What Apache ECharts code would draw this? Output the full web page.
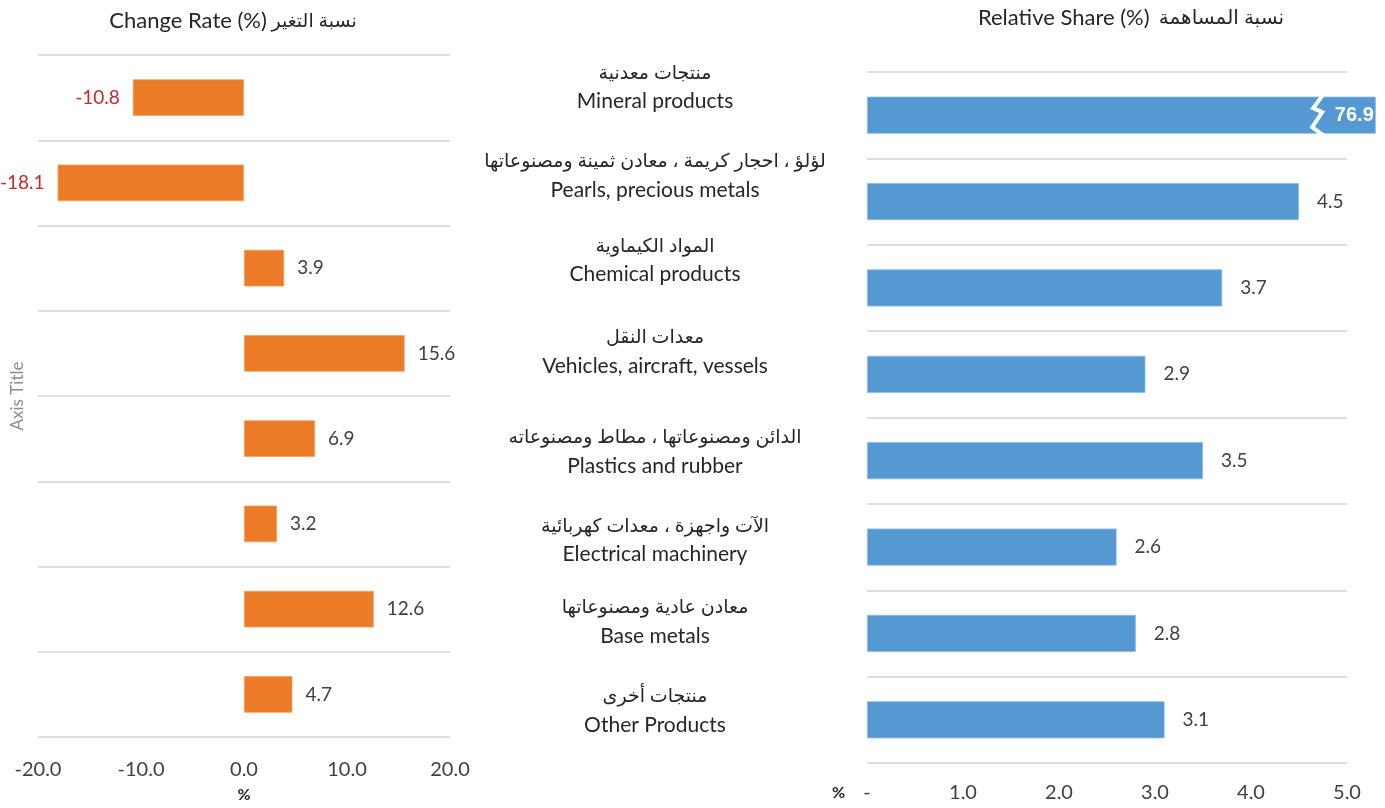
<!DOCTYPE html>
<html>
<head>
<meta charset="utf-8">
<script src="https://cdn.jsdelivr.net/npm/echarts@6/dist/echarts.min.js"></script>
<style>
html,body{margin:0;padding:0;background:#fff;}
#main{width:1385px;height:808px;}
</style>
</head>
<body>
<div id="main"></div>
<script>
// ---- data ----
const categoriesAr = [
  'منتجات معدنية',
  'لؤلؤ ، احجار كريمة ، معادن ثمينة ومصنوعاتها',
  'المواد الكيماوية',
  'معدات النقل',
  'الدائن ومصنوعاتها ، مطاط ومصنوعاته',
  'الآت واجهزة ، معدات كهربائية',
  'معادن عادية ومصنوعاتها',
  'منتجات أخرى'
];
const categoriesEn = [
  'Mineral products',
  'Pearls, precious metals',
  'Chemical products',
  'Vehicles, aircraft, vessels',
  'Plastics and rubber',
  'Electrical machinery',
  'Base metals',
  'Other Products'
];
const changeRate = [-10.8, -18.1, 3.9, 15.6, 6.9, 3.2, 12.6, 4.7];
const relativeShare = [76.9, 4.5, 3.7, 2.9, 3.5, 2.6, 2.8, 3.1];
const leftTicks = [-20, -10, 0, 10, 20];
const rightTicks = [0, 1, 2, 3, 4, 5];

// ---- layout / style ----
const FONT = 'Lato, "DejaVu Sans", sans-serif';
const TXT = '#404040';
const ORANGE = '#EB7B27';
const BLUE = '#5599D3';
const NEG = '#C8282D';
const GRIDC = '#D4D4D4';
const rightMax = 5;
const capValue = 5.3;     // visual cap for broken bar
const breakAt = 4.7;      // where the break symbol is drawn
const labelShift = [28, 26, 28, 23, 9, 7, 12, 9]; // upward shift of middle labels (px)
const midX = 655;

const chart = echarts.init(document.getElementById('main'), null, {renderer: 'canvas'});

const option = {
  animation: false,
  backgroundColor: '#fff',
  textStyle: {fontFamily: FONT},
  title: [
    {text: '{en|Change Rate (%)} {ar|نسبة التغير}', left: 228, top: 5, textAlign: 'center',
     textStyle: {fontFamily: FONT, fontWeight: 'normal', color: '#262626',
       rich: {en: {fontSize: 22, fontFamily: FONT, color: '#262626'}, ar: {fontSize: 19, fontFamily: FONT, color: '#262626'}}}},
    {text: '{en|Relative Share (%)}  {ar|نسبة المساهمة}', left: 1126, top: 2, textAlign: 'center',
     textStyle: {fontFamily: FONT, fontWeight: 'normal', color: '#262626',
       rich: {en: {fontSize: 22, fontFamily: FONT, color: '#262626'}, ar: {fontSize: 20, fontFamily: FONT, color: '#262626'}}}}
  ],
  grid: [
    {left: 38, right: 935, top: 55, bottom: 68, containLabel: false},
    {left: 867, right: 38, top: 72, bottom: 45, containLabel: false}
  ],
  xAxis: [
    {gridIndex: 0, type: 'value', min: -20, max: 20, interval: 10,
     axisLine: {show: false}, axisTick: {show: false}, splitLine: {show: false},
     axisLabel: {margin: 23, fontSize: 20, color: TXT, fontFamily: FONT,
       customValues: leftTicks, formatter: v => v.toFixed(1)},
     name: '%', nameLocation: 'middle', nameGap: 50,
     nameTextStyle: {fontSize: 16, fontWeight: 'bold', color: '#262626', fontFamily: FONT}},
    {gridIndex: 1, type: 'value', min: 0, max: rightMax, interval: 1,
     axisLine: {show: false}, axisTick: {show: false}, splitLine: {show: false},
     axisLabel: {margin: 20, fontSize: 20, color: TXT, fontFamily: FONT,
       customValues: rightTicks, formatter: v => v === 0 ? '-' : v.toFixed(1)},
     name: '%', nameLocation: 'start', nameGap: 22,
     nameTextStyle: {fontSize: 16, fontWeight: 'bold', color: '#262626', fontFamily: FONT,
       verticalAlign: 'top', padding: [22, 0, 0, 0]}}
  ],
  yAxis: [
    {gridIndex: 0, type: 'category', inverse: true, data: categoriesEn,
     axisLine: {show: false}, axisTick: {show: false}, axisLabel: {show: false},
     splitLine: {show: true, lineStyle: {color: GRIDC, width: 1.5}},
     name: 'Axis Title', nameLocation: 'middle', nameGap: 12,
     nameTextStyle: {fontSize: 17, color: '#8C8C8C', fontFamily: FONT}},
    {gridIndex: 1, type: 'category', inverse: true, data: categoriesEn,
     axisLine: {show: false}, axisTick: {show: false}, axisLabel: {show: false},
     splitLine: {show: true, lineStyle: {color: GRIDC, width: 1.5}}}
  ],
  series: [
    {type: 'bar', xAxisIndex: 0, yAxisIndex: 0, barWidth: '43%',
     data: changeRate.map(v => ({
       value: v,
       label: {position: v < 0 ? 'left' : 'right', color: v < 0 ? NEG : TXT}
     })),
     itemStyle: {color: ORANGE, borderColor: '#F4A262', borderWidth: 0.8},
     label: {show: true, distance: 13, fontSize: 19, fontFamily: FONT,
       formatter: p => changeRate[p.dataIndex].toFixed(1)}},
    {type: 'bar', xAxisIndex: 1, yAxisIndex: 1, barWidth: '43%', clip: false,
     data: relativeShare.map(v => v > rightMax ? ({
       value: Math.min(v, capValue),
       label: {position: 'insideRight', color: '#fff', fontWeight: 'bold',
         fontFamily: 'Arial, "Liberation Sans", sans-serif', fontSize: 20, distance: 2}
     }) : ({value: v})),
     itemStyle: {color: BLUE, borderColor: '#8DBDE6', borderWidth: 0.8},
     label: {show: true, position: 'right', distance: 18, fontSize: 19, color: TXT, fontFamily: FONT,
       formatter: p => relativeShare[p.dataIndex].toFixed(1)}}
  ]
};
chart.setOption(option);

const graphics = [];
// middle category labels (Arabic + English), positioned from the category axis
categoriesEn.forEach((en, i) => {
  const p = chart.convertToPixel({gridIndex: 1}, [0, i]);
  graphics.push({
    type: 'text', z: 50,
    style: {
      text: '{ar|' + categoriesAr[i] + '}\n{en|' + en + '}',
      x: midX, y: p[1] - labelShift[i],
      align: 'center', verticalAlign: 'middle',
      fill: '#262626',
      rich: {
        ar: {fontSize: 19, lineHeight: 29, fontFamily: FONT, fill: '#262626', align: 'center'},
        en: {fontSize: 21, lineHeight: 29, fontFamily: FONT, fill: '#262626', align: 'center'}
      }
    }
  });
});
// break marker on bars exceeding the axis maximum
relativeShare.forEach((v, i) => {
  if (v > rightMax) {
    const p = chart.convertToPixel({gridIndex: 1}, [breakAt, i]);
    const bandH = 691 / relativeShare.length;
    const h = bandH * 0.43;
    const top = p[1] - h / 2, bot = p[1] + h / 2;
    const x0 = p[0];
    graphics.push({
      type: 'polyline', z: 100,
      shape: {points: [[x0 + 5, top - 2], [x0 - 5, p[1] - 7], [x0 + 4, p[1] - 3], [x0 - 6, p[1] + 12], [x0 + 6, bot + 2]]},
      style: {stroke: '#fff', lineWidth: 4, fill: null}
    });
  }
});
chart.setOption({graphic: graphics});
</script>
</body>
</html>
